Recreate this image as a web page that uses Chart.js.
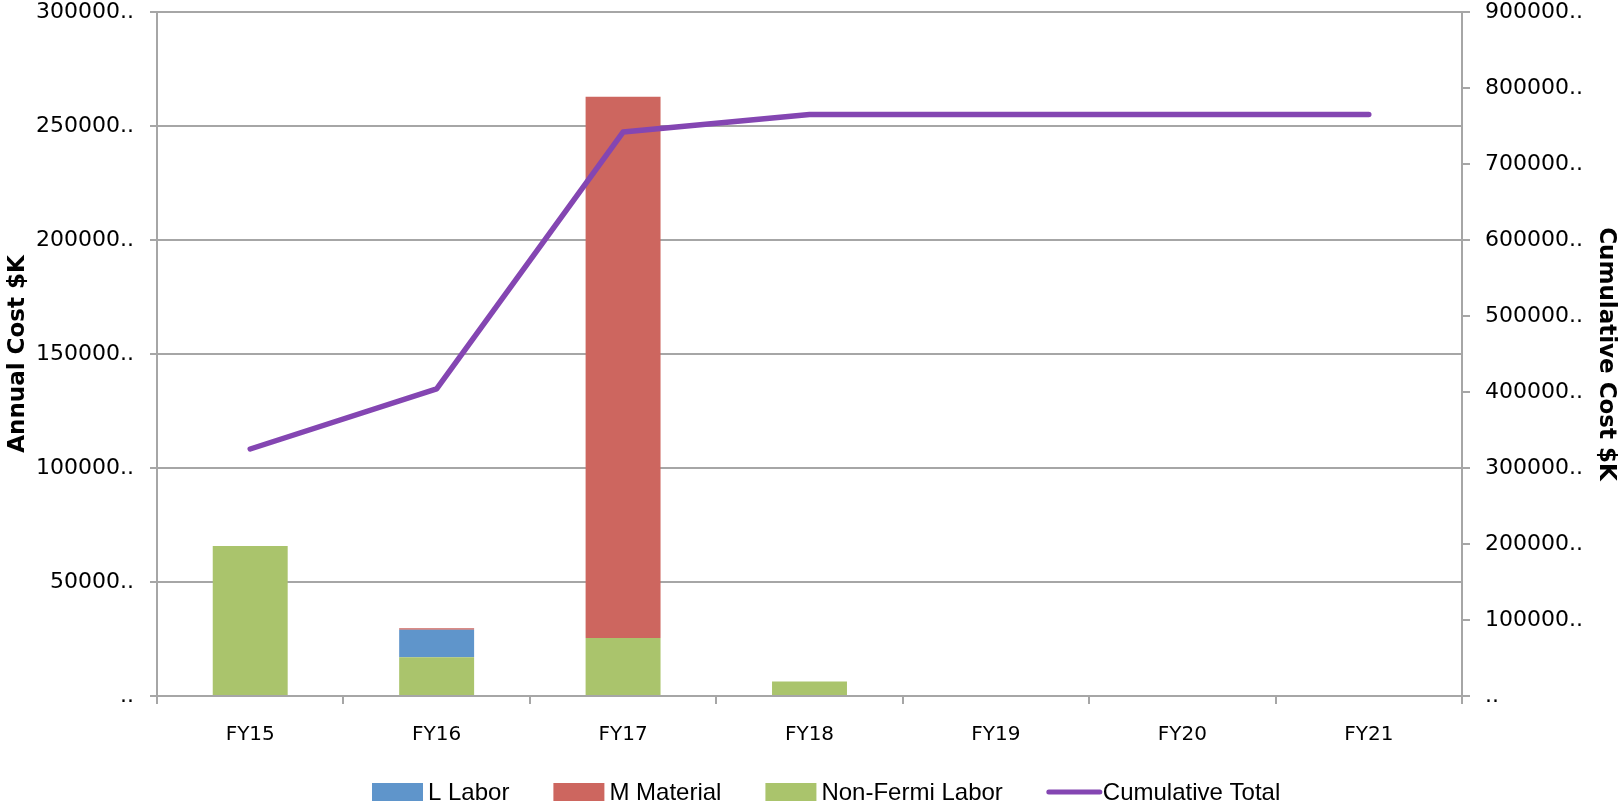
<!DOCTYPE html>
<html>
<head>
<meta charset="utf-8">
<script src="https://cdn.jsdelivr.net/npm/chart.js@4.4.1/dist/chart.umd.min.js"></script>
<style>
  html, body { margin: 0; padding: 0; background: #ffffff; }
  #wrap { width: 1619px; height: 808px; }
</style>
</head>
<body>
<div id="wrap"><canvas id="c" width="1619" height="808"></canvas></div>
<script>
// Fiscal years on the category axis
const years = ['FY15', 'FY16', 'FY17', 'FY18', 'FY19', 'FY20', 'FY21'];

// Annual cost components, $K (stacked bars)
const nonFermiLabor = [65800, 17000, 25400, 6400, 0, 0, 0];
const lLabor        = [0, 12100, 0, 0, 0, 0, 0];
const mMaterial     = [0, 600, 237400, 0, 0, 0, 0];

// Running total, $K (line on the right axis)
const cumulativeTotal = [325000, 404000, 742000, 765000, 765000, 765000, 765000];

// Axis tick labels
const annualTicks     = ['..', '50000..', '100000..', '150000..', '200000..', '250000..', '300000..'];
const cumulativeTicks = ['..', '100000..', '200000..', '300000..', '400000..', '500000..', '600000..', '700000..', '800000..', '900000..'];

const COLORS = {
  blue: '#5f95cb',
  red: '#cd665f',
  green: '#aac46c',
  purple: '#8446b2',
  axis: '#a6a6a6'
};

const xTickFont = { family: 'DejaVu Sans', size: 20, lineHeight: 1.0 };
const yTickFont = { family: 'DejaVu Sans', size: 22, lineHeight: 1.0 };
const titleFont = { family: 'DejaVu Sans', size: 23, weight: 'bold', lineHeight: 1.1 };

// Legend drawn beneath the category axis
const legendItems = [
  { text: 'L Labor', color: COLORS.blue, kind: 'box' },
  { text: 'M Material', color: COLORS.red, kind: 'box' },
  { text: 'Non-Fermi Labor', color: COLORS.green, kind: 'box' },
  { text: 'Cumulative Total', color: COLORS.purple, kind: 'line' }
];

const bottomLegend = {
  id: 'bottomLegend',
  afterDraw(chart) {
    const ctx = chart.ctx;
    ctx.save();
    ctx.font = '24px "Liberation Sans", Arial, sans-serif';
    ctx.textBaseline = 'middle';
    const yMid = 792;
    let x = 372;
    legendItems.forEach(item => {
      if (item.kind === 'box') {
        ctx.fillStyle = item.color;
        ctx.fillRect(x, yMid - 9, 51, 18);
      } else {
        ctx.strokeStyle = item.color;
        ctx.lineWidth = 5;
        ctx.lineCap = 'round';
        ctx.beginPath();
        ctx.moveTo(x + 2, yMid);
        ctx.lineTo(x + 53, yMid);
        ctx.stroke();
      }
      x += 56;
      ctx.fillStyle = '#000000';
      ctx.fillText(item.text, x, yMid + 1);
      x += ctx.measureText(item.text).width + 44;
    });
    ctx.restore();
  }
};

// Vertical axes: fixed width, and the plot reaches 12px from the top edge
function fitValueAxis(scale) {
  scale.width = 157;
  scale.paddingTop = 12;
  scale.paddingBottom = 0;
}

new Chart(document.getElementById('c'), {
  data: {
    labels: years,
    datasets: [
      {
        type: 'line',
        label: 'Cumulative Total',
        data: cumulativeTotal,
        yAxisID: 'yCum',
        borderColor: COLORS.purple,
        backgroundColor: COLORS.purple,
        borderWidth: 5.5,
        pointRadius: 0,
        pointHoverRadius: 0,
        tension: 0,
        fill: false,
        borderCapStyle: 'round',
        borderJoinStyle: 'round',
        order: 0
      },
      {
        type: 'bar',
        label: 'Non-Fermi Labor',
        data: nonFermiLabor,
        yAxisID: 'y',
        backgroundColor: COLORS.green,
        stack: 'cost',
        order: 1
      },
      {
        type: 'bar',
        label: 'L Labor',
        data: lLabor,
        yAxisID: 'y',
        backgroundColor: COLORS.blue,
        stack: 'cost',
        order: 1
      },
      {
        type: 'bar',
        label: 'M Material',
        data: mMaterial,
        yAxisID: 'y',
        backgroundColor: COLORS.red,
        stack: 'cost',
        order: 1
      }
    ]
  },
  options: {
    responsive: false,
    devicePixelRatio: 1,
    animation: false,
    events: [],
    layout: { padding: 0 },
    datasets: {
      bar: { categoryPercentage: 1.0, barPercentage: 0.402, borderWidth: 0 }
    },
    plugins: {
      legend: { display: false },
      tooltip: { enabled: false },
      title: { display: false }
    },
    scales: {
      x: {
        type: 'category',
        offset: true,
        stacked: true,
        grid: {
          offset: true,
          drawOnChartArea: false,
          drawTicks: true,
          tickLength: 8,
          color: COLORS.axis,
          lineWidth: 2
        },
        border: { display: true, color: COLORS.axis, width: 2 },
        ticks: { color: '#000000', font: xTickFont, padding: 21, maxRotation: 0 },
        afterFit(scale) {
          scale.height = 112;
          scale.paddingLeft = 0;
          scale.paddingRight = 0;
        }
      },
      y: {
        type: 'linear',
        position: 'left',
        stacked: true,
        min: 0,
        max: 300000,
        grid: {
          color: COLORS.axis,
          lineWidth: 2,
          drawTicks: true,
          tickLength: 7
        },
        border: { display: true, color: COLORS.axis, width: 2 },
        ticks: {
          stepSize: 50000,
          color: '#000000',
          font: yTickFont,
          padding: 16,
          callback: (v, i) => annualTicks[i]
        },
        title: {
          display: true,
          text: 'Annual Cost $K',
          color: '#000000',
          font: titleFont,
          padding: { top: 5, bottom: 0 }
        },
        afterFit: fitValueAxis
      },
      yCum: {
        type: 'linear',
        position: 'right',
        min: 0,
        max: 900000,
        grid: {
          drawOnChartArea: false,
          color: COLORS.axis,
          lineWidth: 2,
          drawTicks: true,
          tickLength: 8
        },
        border: { display: true, color: COLORS.axis, width: 2 },
        ticks: {
          stepSize: 100000,
          color: '#000000',
          font: yTickFont,
          padding: 15,
          callback: (v, i) => cumulativeTicks[i]
        },
        title: {
          display: true,
          text: 'Cumulative Cost $K',
          color: '#000000',
          font: titleFont,
          padding: { top: 0, bottom: 0 }
        },
        afterFit: fitValueAxis
      }
    }
  },
  plugins: [bottomLegend]
});
</script>
</body>
</html>
